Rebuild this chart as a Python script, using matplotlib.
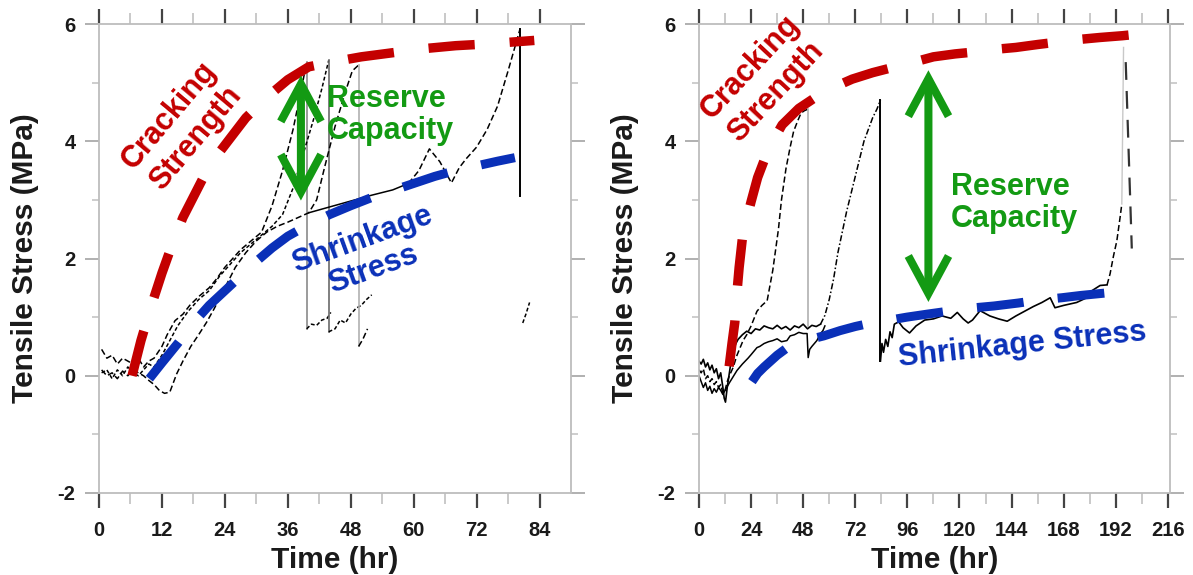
import numpy as np
import matplotlib
matplotlib.use("Agg")
import matplotlib.pyplot as plt
from matplotlib.patches import FancyArrowPatch

plt.rcParams['font.family'] = ['Liberation Sans', 'DejaVu Sans']
plt.rcParams['axes.unicode_minus'] = False

# ---------------- data: left panel (0-90 hr) ----------------
L_crack_t = [6.3, 8, 10, 12, 14, 16, 18, 20, 22, 25, 28, 32, 36, 40, 45, 50, 56, 62, 68, 74, 80, 83]
L_crack_y = [0, 0.6, 1.2, 1.75, 2.25, 2.7, 3.05, 3.4, 3.7, 4.05, 4.4, 4.75, 5.05, 5.27, 5.36, 5.44, 5.51, 5.58, 5.63, 5.66, 5.7, 5.72]
L_shrink_t = [9.6, 12, 15, 18, 21, 24, 27, 30, 33, 36, 40, 44, 48, 52, 56, 60, 64, 68, 72, 76, 79.3]
L_shrink_y = [-0.05, 0.22, 0.55, 0.9, 1.2, 1.45, 1.7, 1.95, 2.18, 2.38, 2.58, 2.75, 2.9, 3.04, 3.16, 3.28, 3.4, 3.5, 3.58, 3.66, 3.72]

L1_rise_t = [0.5, 1.5, 2.5, 3.5, 4.5, 5.5, 6.5, 7.5, 8.5, 9.5, 10.5, 12, 13, 14.5, 16, 17.3, 19, 21, 22.4, 24, 25.5, 27, 29, 31, 33, 35, 37, 38.5, 39.6]
L1_rise_y = [0.45, 0.3, 0.35, 0.2, 0.3, 0.25, 0.2, 0.3, 0.15, 0.25, 0.3, 0.5, 0.7, 0.94, 1.05, 1.2, 1.35, 1.5, 1.65, 1.85, 2.0, 2.15, 2.3, 2.45, 2.9, 3.5, 4.2, 4.85, 5.35]
L1_after_t = [39.6, 40.5, 41.5, 42.5, 43.5, 44.2]
L1_after_y = [0.8, 0.88, 0.86, 0.95, 0.98, 1.08]

L2_rise_t = [0.5, 1.5, 2.5, 3.5, 4.5, 5.5, 6.5, 7.5, 8.5, 9.5, 10.5, 12, 13.5, 15, 17, 19, 21, 23, 25, 27, 29, 31, 33, 35, 37, 39, 41, 42.5, 43.8]
L2_rise_y = [0.05, 0.1, -0.05, 0.1, 0.0, 0.15, 0.05, 0.0, 0.1, 0.2, 0.15, 0.35, 0.6, 0.85, 1.1, 1.3, 1.45, 1.7, 1.9, 2.1, 2.25, 2.4, 2.55, 2.75, 3.2, 3.8, 4.4, 4.9, 5.38]
L2_after_t = [43.8, 45, 46, 47, 48, 49, 50, 51, 52]
L2_after_y = [0.75, 0.8, 0.95, 0.9, 1.05, 1.15, 1.2, 1.3, 1.38]

L3_rise_t = [0.5, 1.5, 2.5, 3.5, 4.5, 5.5, 6.5, 7.5, 8.5, 9.5, 10.5, 11.5, 12.5, 13.5, 14.8, 16, 17.5, 19, 20.5, 22, 24, 26, 28, 30, 32, 34, 36, 38, 40, 41.5, 43, 45, 47, 48.3, 49.5]
L3_rise_y = [0.1, 0.0, 0.05, -0.05, 0.08, 0.0, 0.1, 0.05, 0.0, -0.08, -0.15, -0.25, -0.3, -0.28, 0.03, 0.25, 0.5, 0.7, 0.91, 1.15, 1.5, 1.85, 2.1, 2.3, 2.45, 2.55, 2.62, 2.7, 2.78, 3.0, 3.55, 4.25, 4.85, 5.2, 5.3]
L3_after_t = [49.5, 50.3, 51.2]
L3_after_y = [0.5, 0.62, 0.8]

L4_flat_t = [40, 44, 48, 52, 56, 59]
L4_flat_y = [2.78, 2.88, 2.98, 3.08, 3.17, 3.28]
L4_rise_t = [59, 61, 63, 65, 67.2, 68.7, 70, 72, 74, 76, 78, 80.3]
L4_rise_y = [3.28, 3.5, 3.87, 3.65, 3.29, 3.55, 3.7, 3.9, 4.2, 4.6, 5.2, 5.92]
L4_after_t = [80.3]
L4_after_y = [3.06]
L4_tail_t = [80.8, 81.4, 82.1]
L4_tail_y = [0.9, 1.05, 1.25]

# ---------------- data: right panel (0-217 hr) ----------------
R_crack_t = [13.9, 15.2, 16.5, 17.2, 18.5, 20, 22, 24, 27, 30.5, 34, 38.3, 46, 54.9, 62, 70.6, 80, 91.5, 100, 108, 118, 129, 137, 146, 156, 167, 176, 184.7, 195, 205.6]
R_crack_y = [0.16, 0.55, 0.91, 1.3, 1.85, 2.35, 2.68, 2.97, 3.38, 3.72, 4.0, 4.28, 4.56, 4.78, 4.92, 5.06, 5.17, 5.28, 5.36, 5.44, 5.49, 5.53, 5.57, 5.6, 5.65, 5.7, 5.74, 5.77, 5.8, 5.84]
R_shrink_t = [24.4, 27, 30, 33, 36, 40, 45, 50, 57.5, 65, 72, 79.3, 88, 95.8, 105, 118.5, 127, 135.9, 147, 158.5, 167, 176, 187, 197.7]
R_shrink_y = [-0.1, 0.04, 0.15, 0.25, 0.35, 0.46, 0.55, 0.61, 0.68, 0.77, 0.84, 0.9, 0.95, 1.0, 1.05, 1.12, 1.16, 1.19, 1.24, 1.3, 1.33, 1.37, 1.41, 1.46]

RA_flat_t = [0, 1, 2, 3, 4, 5, 6, 7, 8, 9, 10, 11, 11.6, 12.2, 13, 14, 15, 16, 17, 18, 20, 22, 24, 26, 28, 30, 32, 34, 36, 38, 40, 42, 44, 46, 48, 50, 52, 54, 56]
RA_flat_y = [0.25, 0.2, 0.28, 0.15, 0.22, 0.1, 0.18, 0.05, 0.12, -0.05, 0.05, -0.2, -0.38, -0.45, -0.2, 0.05, 0.3, 0.45, 0.55, 0.62, 0.7, 0.76, 0.72, 0.8, 0.78, 0.85, 0.82, 0.8, 0.86, 0.8, 0.84, 0.78, 0.85, 0.82, 0.88, 0.8, 0.86, 0.84, 0.88]
RA_rise_t = [56, 58, 60, 62, 64, 66, 68, 70, 72, 74, 76, 78, 80, 82, 83.6]
RA_rise_y = [0.88, 1.03, 1.3, 1.65, 2.1, 2.45, 2.8, 3.1, 3.4, 3.7, 4.0, 4.2, 4.4, 4.55, 4.7]
RA_after_t = [83.6, 84.3, 85, 86, 87, 88, 89, 90, 92, 94, 97, 100, 104, 108, 112, 116, 119, 121.7, 124, 126, 129.5, 134, 138, 142, 146, 150, 154, 158, 161.8, 164, 168, 174, 178, 181, 184.8, 188]
RA_after_y = [0.25, 0.55, 0.4, 0.62, 0.5, 0.75, 0.65, 0.88, 0.92, 0.82, 0.73, 0.85, 0.95, 0.97, 1.02, 0.98, 1.08, 0.97, 0.9, 0.95, 1.11, 1.02, 0.97, 0.93, 1.02, 1.1, 1.18, 1.25, 1.33, 1.16, 1.2, 1.25, 1.32, 1.45, 1.54, 1.55]
RA_rise2_t = [188, 189.4, 191, 192.5, 194, 194.8]
RA_rise2_y = [1.55, 1.74, 2.05, 2.3, 2.7, 2.93]
RA_spike_t = [194.8, 195.6]
RA_spike_y = [2.93, 5.6]
RA_drop_t = [196.6, 199.4]
RA_drop_y = [5.35, 2.17]

RB_rise_t = [0, 1, 2, 3, 4, 5, 6, 7, 8, 9, 10, 11, 12, 13, 14, 15.7, 17.5, 20.3, 22, 24, 26.7, 29, 31.4, 34, 36.6, 38, 40.1, 42, 43.6, 45.5, 47, 48.5, 50.3]
RB_rise_y = [0.1, 0.05, 0.12, -0.05, 0.0, -0.1, -0.05, -0.15, -0.1, -0.2, -0.15, -0.3, -0.25, -0.1, 0.0, 0.14, 0.35, 0.6, 0.7, 0.85, 1.1, 1.2, 1.28, 1.8, 2.5, 3.0, 3.54, 3.9, 4.17, 4.35, 4.48, 4.52, 4.55]
RB_after_t = [50.3]
RB_after_y = [0.85]

RC_t = [0, 1, 2, 3, 4, 5, 6, 7, 8, 9, 10, 11, 12, 14, 16, 17.5, 20, 22.6, 24, 26.7, 28, 30, 32, 34, 36, 38, 40.5, 42, 44, 46, 48, 49.8, 50.3, 51, 52, 54.3, 56, 57.1, 58]
RC_y = [0.0, -0.1, -0.2, -0.12, -0.25, -0.18, -0.3, -0.22, -0.28, -0.2, -0.25, -0.32, -0.25, -0.12, 0.0, 0.09, 0.2, 0.3, 0.36, 0.48, 0.5, 0.55, 0.58, 0.6, 0.63, 0.58, 0.6, 0.68, 0.7, 0.74, 0.72, 0.72, 0.31, 0.45, 0.5, 0.6, 0.72, 0.77, 0.85]

x_ticks_left = [0, 12, 24, 36, 48, 60, 72, 84]
x_ticks_right = [0, 24, 48, 72, 96, 120, 144, 168, 192, 216]
y_ticks = [-2, 0, 2, 4, 6]

RED = '#c40000'
BLUE = '#0a30b8'
GREEN = '#139a13'

W, H = 1193, 575
fig = plt.figure(figsize=(W / 100, H / 100), dpi=100)
Y_TOP, Y_BOT = 24, 493
axL = fig.add_axes([99 / W, 1 - Y_BOT / H, 472 / W, (Y_BOT - Y_TOP) / H])
axR = fig.add_axes([699 / W, 1 - Y_BOT / H, 471 / W, (Y_BOT - Y_TOP) / H])


def style(ax, xmax, xt):
    ax.set_xlim(0, xmax)
    ax.set_ylim(-2, 6)
    for s in ax.spines.values():
        s.set_color('#bdbdbd')
        s.set_linewidth(1.3)
    ax.set_xticks(xt)
    step = xt[1] - xt[0]
    ax.set_xticks(np.arange(step / 2, xmax, step), minor=True)
    ax.set_yticks(y_ticks)
    ax.set_yticks([-1, 1, 3, 5], minor=True)
    ax.tick_params(axis='x', which='major', direction='out', length=11, width=1.6,
                   color='#444', top=True, labelsize=14.5, pad=9, labelcolor='#1a1a1a')
    ax.tick_params(axis='x', which='minor', direction='out', length=8, width=1.2,
                   color='#c0c0c0', top=True)
    ax.tick_params(axis='y', which='major', direction='out', length=10, width=1.3,
                   color='#aaaaaa', right=True, labelsize=14.5, pad=7, labelcolor='#1a1a1a')
    ax.tick_params(axis='y', which='minor', direction='out', length=5, width=1.1,
                   color='#c0c0c0', right=True)
    for lab in ax.get_xticklabels() + ax.get_yticklabels():
        lab.set_fontweight('bold')


style(axL, 90, x_ticks_left)
style(axR, 217, x_ticks_right)

DASH = (0, (4, 2))
DASH2 = (0, (2.5, 1.5))


def bl(ax, t, y, ls='-', lw=1.1, c='black'):
    ax.plot(t, y, color=c, lw=lw, linestyle=ls, zorder=2)


def drop(ax, t1, y1, t2, y2, c='#888888', lw=1.2, ls='-'):
    ax.plot([t1[-1], t2[0]], [y1[-1], y2[0]], color=c, lw=lw, linestyle=ls, zorder=2)


# ---- left black specimen curves
bl(axL, L1_rise_t, L1_rise_y, DASH)
drop(axL, L1_rise_t, L1_rise_y, L1_after_t, L1_after_y, '#8a8a8a')
bl(axL, L1_after_t, L1_after_y, DASH2)
bl(axL, L2_rise_t, L2_rise_y, DASH2)
drop(axL, L2_rise_t, L2_rise_y, L2_after_t, L2_after_y, '#6a6a6a')
bl(axL, L2_after_t, L2_after_y, DASH2)
bl(axL, L3_rise_t, L3_rise_y, DASH)
drop(axL, L3_rise_t, L3_rise_y, L3_after_t, L3_after_y, '#b0b0b0')
bl(axL, L3_after_t, L3_after_y, DASH)
bl(axL, L4_flat_t, L4_flat_y, '-')
bl(axL, L4_rise_t, L4_rise_y, DASH)
drop(axL, L4_rise_t, L4_rise_y, L4_after_t, L4_after_y, 'black', 1.4)
bl(axL, L4_tail_t, L4_tail_y, DASH2)

# ---- right black specimen curves
bl(axR, RC_t, RC_y, '-', 1.1)
bl(axR, RB_rise_t, RB_rise_y, DASH)
drop(axR, RB_rise_t, RB_rise_y, RB_after_t, RB_after_y, '#b0b0b0')
bl(axR, RA_flat_t, RA_flat_y, '-', 1.2)
bl(axR, RA_rise_t, RA_rise_y, (0, (4, 1.5, 1, 1.5)))
drop(axR, RA_rise_t, RA_rise_y, RA_after_t, RA_after_y, 'black', 1.4)
bl(axR, RA_after_t, RA_after_y, '-', 1.2)
bl(axR, RA_rise2_t, RA_rise2_y, DASH)
bl(axR, RA_spike_t, RA_spike_y, '-', 1.0, '#c8c8c8')
bl(axR, RA_drop_t, RA_drop_y, (0, (8, 5)), 1.6, '#333333')

# ---- thick dashed envelopes
for ax, ct, cy, st, sy in [(axL, L_crack_t, L_crack_y, L_shrink_t, L_shrink_y),
                           (axR, R_crack_t, R_crack_y, R_shrink_t, R_shrink_y)]:
    ax.plot(ct, cy, color=RED, lw=6.8, linestyle=(0, (4.9, 3.7)),
            dash_capstyle='butt', zorder=4)
    ax.plot(st, sy, color=BLUE, lw=6.5, linestyle=(0, (5.2, 3.8)),
            dash_capstyle='butt', zorder=4)


def darrow(ax, x, y0, y1):
    a = FancyArrowPatch((x, y0), (x, y1),
                        arrowstyle='<->,head_length=2.7,head_width=1.45',
                        mutation_scale=10, lw=5.8, color=GREEN,
                        joinstyle='miter', capstyle='butt',
                        shrinkA=5, shrinkB=5, zorder=6)
    ax.add_patch(a)


darrow(axL, 38.5, 2.87, 5.24)
darrow(axR, 105.7, 1.14, 5.33)

TXT = dict(fontsize=22, fontweight='bold', zorder=7)
axL.text(15.9, 4.24, 'Cracking\nStrength', color=RED, rotation=50, ha='center', va='center',
         multialignment='center', linespacing=1.25, rotation_mode='anchor', **TXT)
axR.text(29.6, 5.05, 'Cracking\nStrength', color=RED, rotation=47, ha='center', va='center',
         multialignment='center', linespacing=1.25, rotation_mode='anchor', **TXT)
axL.text(43.4, 4.45, 'Reserve\nCapacity', color=GREEN, ha='left', va='center',
         multialignment='left', linespacing=1.1, **TXT)
axR.text(116.2, 2.95, 'Reserve\nCapacity', color=GREEN, ha='left', va='center',
         multialignment='left', linespacing=1.1, **TXT)
axL.text(51.3, 2.07, 'Shrinkage\nStress', color=BLUE, rotation=20, ha='center', va='center',
         multialignment='center', linespacing=1.1, rotation_mode='anchor', **TXT)
axR.text(149, 0.52, 'Shrinkage Stress', color=BLUE, rotation=6, ha='center', va='center',
         rotation_mode='anchor', **TXT)

LAB = dict(fontsize=21.5, color='#1a1a1a', fontweight='bold')
fig.text(25 / W, 1 - 258 / H, 'Tensile Stress (MPa)', rotation=90, ha='center', va='center', **LAB)
fig.text(625 / W, 1 - 258 / H, 'Tensile Stress (MPa)', rotation=90, ha='center', va='center', **LAB)
fig.text((99 + 236) / W, 1 - 574 / H, 'Time (hr)', ha='center', va='bottom', **LAB)
fig.text((699 + 236) / W, 1 - 574 / H, 'Time (hr)', ha='center', va='bottom', **LAB)

fig.savefig('out.png', dpi=100)
